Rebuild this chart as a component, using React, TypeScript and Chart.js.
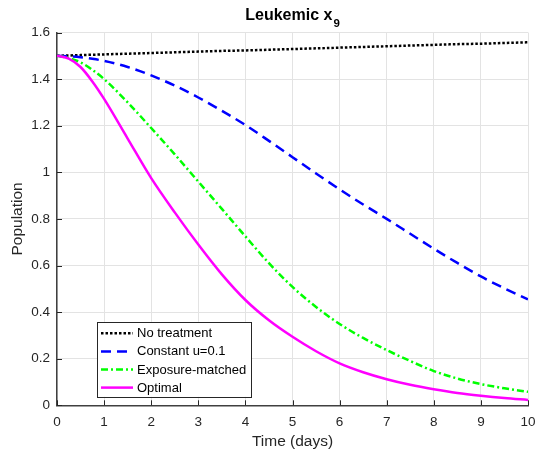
import React, { useEffect, useRef } from "react";
import { Chart, registerables } from "chart.js";

Chart.register(...registerables);

const FONT = "'Liberation Sans', Arial, Helvetica, sans-serif";

const titleMain = "Leukemic x";
const titleSub = "9";
const xAxisLabel = "Time (days)";
const yAxisLabel = "Population";

const days = [0, 0.25, 0.5, 0.75, 1, 1.5, 2, 2.5, 3, 3.5, 4, 4.5, 5, 5.5, 6, 6.5, 7, 7.5, 8, 8.5, 9, 9.5, 10];

const noTreatment = [1.5, 1.5015, 1.503, 1.5045, 1.506, 1.509, 1.512, 1.515, 1.518, 1.521, 1.523, 1.526, 1.529, 1.532, 1.535, 1.538, 1.541, 1.544, 1.547, 1.55, 1.552, 1.555, 1.558];
const constantU = [1.5, 1.498, 1.494, 1.487, 1.478, 1.452, 1.416, 1.372, 1.321, 1.264, 1.203, 1.135, 1.065, 0.995, 0.927, 0.862, 0.8, 0.736, 0.672, 0.611, 0.553, 0.502, 0.455];
const exposureMatched = [1.5, 1.49, 1.472, 1.44, 1.4, 1.3, 1.19, 1.077, 0.96, 0.843, 0.725, 0.61, 0.508, 0.422, 0.349, 0.289, 0.237, 0.19, 0.147, 0.115, 0.091, 0.073, 0.058];
const optimal = [1.5, 1.488, 1.452, 1.39, 1.315, 1.145, 0.975, 0.828, 0.69, 0.562, 0.452, 0.365, 0.294, 0.232, 0.18, 0.142, 0.112, 0.088, 0.069, 0.053, 0.041, 0.031, 0.023];

const seriesNames = ["No treatment", "Constant u=0.1", "Exposure-matched", "Optimal"];
const seriesValues = [noTreatment, constantU, exposureMatched, optimal];
const seriesColors = ["#000000", "#0000ff", "#00ff00", "#ff00ff"];
const seriesDashes: number[][] = [[2.5, 2], [10, 6], [7, 3, 2, 3], []];

const xMin = 0;
const xMax = 10;
const xStep = 1;
const yMin = 0;
const yMax = 1.6;
const yStep = 0.2;

const AXIS_COLOR = "#262626";

const decorPlugin = {
  id: "matlabDecor",
  afterDraw(chart: any) {
    const { ctx, chartArea, scales } = chart;
    const ca = chartArea;
    ctx.save();

    // inward tick marks
    ctx.strokeStyle = AXIS_COLOR;
    ctx.lineWidth = 1;
    ctx.setLineDash([]);
    const xs = scales.x;
    const ys = scales.y;
    xs.ticks.forEach((t: any) => {
      const px = Math.round(xs.getPixelForValue(t.value)) + 0.5;
      ctx.beginPath();
      ctx.moveTo(px, ca.bottom);
      ctx.lineTo(px, ca.bottom - 5);
      ctx.stroke();
    });
    ys.ticks.forEach((t: any) => {
      const py = Math.round(ys.getPixelForValue(t.value)) + 0.5;
      ctx.beginPath();
      ctx.moveTo(ca.left, py);
      ctx.lineTo(ca.left + 5, py);
      ctx.stroke();
    });

    // title with subscript
    const cx = (ca.left + ca.right) / 2;
    ctx.fillStyle = "#000000";
    ctx.textBaseline = "alphabetic";
    ctx.textAlign = "left";
    ctx.font = `bold 16px ${FONT}`;
    const w1 = ctx.measureText(titleMain).width;
    ctx.font = `bold 11.5px ${FONT}`;
    const w2 = ctx.measureText(titleSub).width;
    const startX = cx - (w1 + w2 + 1) / 2;
    ctx.font = `bold 16px ${FONT}`;
    ctx.fillText(titleMain, startX, 20);
    ctx.font = `bold 11.5px ${FONT}`;
    ctx.fillText(titleSub, startX + w1 + 1, 26.5);

    // axis titles
    ctx.fillStyle = AXIS_COLOR;
    ctx.font = `15.5px ${FONT}`;
    ctx.textAlign = "center";
    ctx.fillText(xAxisLabel, cx, 446);
    ctx.save();
    ctx.translate(22, (ca.top + ca.bottom) / 2);
    ctx.rotate(-Math.PI / 2);
    ctx.fillText(yAxisLabel, 0, 0);
    ctx.restore();

    // legend
    const lx = ca.left + 40;
    const ly = ca.bottom - 83.5;
    const lw = 154;
    const lh = 75;
    ctx.fillStyle = "#ffffff";
    ctx.fillRect(lx, ly, lw, lh);
    ctx.strokeStyle = AXIS_COLOR;
    ctx.lineWidth = 1;
    ctx.strokeRect(Math.round(lx) + 0.5, Math.round(ly) + 0.5, lw, lh);
    ctx.font = `13px ${FONT}`;
    ctx.textAlign = "left";
    ctx.textBaseline = "middle";
    chart.data.datasets.forEach((ds: any, i: number) => {
      const yy = ly + 11.5 + i * 18.1;
      ctx.strokeStyle = ds.borderColor;
      ctx.lineWidth = ds.borderWidth;
      ctx.setLineDash(ds.borderDash || []);
      ctx.lineCap = "butt";
      ctx.beginPath();
      ctx.moveTo(lx + 4, yy);
      ctx.lineTo(lx + 36, yy);
      ctx.stroke();
      ctx.setLineDash([]);
      ctx.fillStyle = "#000000";
      ctx.fillText(ds.label, lx + 40, yy + 0.5);
    });

    ctx.restore();
  },
};

export default function App() {
  const canvasRef = useRef<HTMLCanvasElement | null>(null);

  useEffect(() => {
    document.body.style.margin = "0";
    const canvas = canvasRef.current;
    if (!canvas) return;

    const datasets = seriesNames.map((name, i) => ({
      label: name,
      data: days.map((d, k) => ({ x: d, y: seriesValues[i][k] })),
      borderColor: seriesColors[i],
      backgroundColor: seriesColors[i],
      borderWidth: 2.5,
      borderDash: seriesDashes[i],
      borderCapStyle: "butt" as const,
      pointRadius: 0,
      fill: false,
      cubicInterpolationMode: "monotone" as const,
      order: seriesNames.length - i,
    }));

    const fmt = (v: any) => String(Number(Number(v).toFixed(2)));

    const chart = new Chart(canvas, {
      type: "line",
      data: { datasets },
      plugins: [decorPlugin],
      options: {
        animation: false,
        responsive: true,
        maintainAspectRatio: false,
        layout: { padding: { top: 32.5, right: 22, left: 0, bottom: 0 } },
        plugins: {
          legend: { display: false },
          title: { display: false },
          tooltip: { enabled: false },
        },
        scales: {
          x: {
            type: "linear",
            min: xMin,
            max: xMax,
            ticks: {
              stepSize: xStep,
              color: AXIS_COLOR,
              font: { family: FONT, size: 13.5 },
              padding: 9,
              maxRotation: 0,
              callback: fmt,
            },
            grid: { color: "#e3e3e3", lineWidth: 1, drawTicks: false },
            border: { display: true, color: "#404040", width: 1.5 },
            afterFit(scale: any) {
              scale.height = 53.7;
            },
          },
          y: {
            type: "linear",
            min: yMin,
            max: yMax,
            ticks: {
              stepSize: yStep,
              color: AXIS_COLOR,
              font: { family: FONT, size: 13.5 },
              padding: 7,
              callback: fmt,
            },
            grid: { color: "#e3e3e3", lineWidth: 1, drawTicks: false },
            border: { display: true, color: "#404040", width: 1.5 },
            afterFit(scale: any) {
              scale.width = 57;
            },
          },
        },
      },
    });

    return () => {
      chart.destroy();
    };
  }, []);

  return (
    <div style={{ width: "550px", height: "459px", position: "relative", background: "#ffffff" }}>
      <canvas ref={canvasRef} />
    </div>
  );
}
